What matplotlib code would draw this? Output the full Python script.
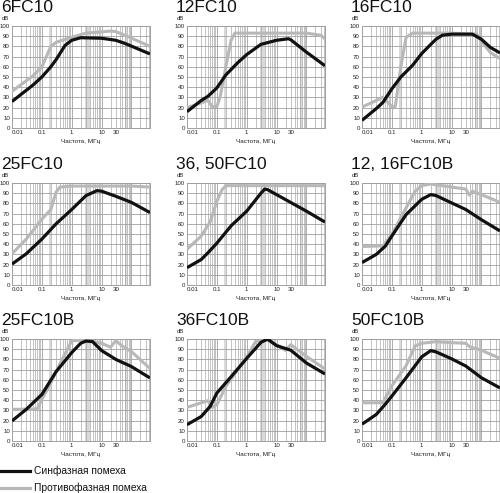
import matplotlib
matplotlib.use("Agg")
import matplotlib.pyplot as plt
import numpy as np

titles = ["6FC10", "12FC10", "16FC10", "25FC10", "36, 50FC10", "12, 16FC10B",
          "25FC10B", "36FC10B", "50FC10B"]
xtick_vals = [0.01, 0.1, 1, 10, 30]
xtick_labels = ["0.01", "0.1", "1", "10", "30"]
ytick_vals = [0, 10, 20, 30, 40, 50, 60, 70, 80, 90, 100]
legend_labels = ["Синфазная помеха", "Противофазная помеха"]
xlabel = "Частота, МГц"

# Panel 1: 6FC10
f1_cm = [0.01, 0.05, 0.1, 0.2, 0.3, 0.6, 1, 2, 10, 30, 60, 420]
y1_cm = [26, 42, 50, 60, 67, 81, 86, 88.5, 88, 86, 83, 72.6]
f1_dm = [0.01, 0.05, 0.1, 0.2, 0.3, 1, 3, 20, 30, 60, 420]
y1_dm = [36, 51, 60, 80, 84, 89, 93, 95, 94.5, 91, 80]
# Panel 2: 12FC10
f2_cm = [0.01, 0.03, 0.05, 0.1, 0.2, 0.5, 1, 3, 10, 25, 30, 100, 420]
y2_cm = [16, 27, 31, 39.3, 52, 64, 72, 82, 86, 87.5, 86.5, 74.4, 61]
f2_dm = [0.01, 0.03, 0.05, 0.07, 0.1, 0.13, 0.2, 0.3, 0.4, 1, 30, 100, 300, 420]
y2_dm = [20, 24.6, 27, 21, 21, 31, 60, 86, 93, 93, 93, 93, 91, 87.5]
# Panel 3: 16FC10
f3_cm = [0.01, 0.03, 0.05, 0.1, 0.2, 0.5, 1, 3, 5, 10, 50, 100, 200, 420]
y3_cm = [7.5, 19, 25, 38.4, 50, 61.6, 73, 87, 91, 92, 92, 87, 79, 73.6]
f3_dm = [0.01, 0.03, 0.05, 0.1, 0.13, 0.2, 0.3, 0.5, 10, 70, 100, 200, 420]
y3_dm = [20.5, 27, 30.3, 21, 21, 60, 89, 93, 93, 92, 85, 74, 68]
# Panel 4: 25FC10
f4_cm = [0.01, 0.03, 0.1, 0.3, 1, 3, 7, 10, 30, 100, 420]
y4_cm = [20.5, 30.6, 45, 60, 74, 87.6, 92.5, 92, 87, 81, 71]
f4_dm = [0.01, 0.03, 0.1, 0.2, 0.3, 0.4, 1, 100, 420]
y4_dm = [30.6, 45, 64.5, 74, 91, 96, 97, 97, 96]
# Panel 5: 36, 50FC10
f5_cm = [0.01, 0.03, 0.05, 0.1, 0.3, 1, 3, 4, 5, 10, 100, 420]
y5_cm = [17, 25, 31.5, 41, 58, 72.4, 90, 94, 93.5, 88.6, 72.4, 61.7]
f5_dm = [0.01, 0.03, 0.06, 0.1, 0.15, 0.2, 1, 420]
y5_dm = [35, 48, 62, 82, 93.5, 97.4, 97.4, 97.4]
# Panel 6: 12, 16FC10B
f6_cm = [0.01, 0.03, 0.06, 0.1, 0.3, 1, 2, 3, 10, 30, 100, 420]
y6_cm = [22, 30, 38, 48, 69, 84, 88.6, 87.7, 80.5, 74, 64, 53]
f6_dm = [0.01, 0.05, 0.1, 0.3, 0.6, 1, 2, 30, 40, 50, 100, 420]
y6_dm = [37.7, 38.4, 49.7, 75.6, 91.9, 97.4, 99, 94, 88, 92, 88.6, 81]
# Panel 7: 25FC10B
f7_cm = [0.01, 0.03, 0.1, 0.3, 1, 2, 3, 5, 10, 30, 100, 420]
y7_cm = [19.7, 31, 45.6, 68, 86.7, 95.8, 98, 97.4, 88.7, 80, 73, 61.8]
f7_dm = [0.01, 0.07, 0.1, 0.2, 0.3, 0.5, 1, 3, 10, 20, 30, 50, 100, 420]
y7_dm = [31, 31.4, 40.8, 57, 68, 81, 98.4, 99, 95.8, 92, 98.4, 93, 87.7, 71]
# Panel 8: 36FC10B
f8_cm = [0.01, 0.03, 0.06, 0.1, 0.3, 1, 3, 5, 10, 30, 100, 420]
y8_cm = [16, 24, 34, 47, 63, 81, 96.7, 100, 93.5, 89, 76.5, 65.7]
f8_dm = [0.01, 0.05, 0.07, 0.1, 0.2, 0.5, 1, 2, 5, 10, 20, 30, 100, 420]
y8_dm = [33, 39.5, 33, 35.6, 53.6, 70, 82.4, 97.7, 98.7, 94.4, 88.9, 94.4, 83, 70.6]
# Panel 9: 50FC10B
f9_cm = [0.01, 0.03, 0.06, 0.1, 0.3, 1, 2, 3, 10, 30, 100, 420]
y9_cm = [16.5, 26, 36, 44, 62, 82.5, 88.6, 87.4, 80.6, 73.5, 62, 52]
f9_dm = [0.01, 0.05, 0.1, 0.3, 0.6, 1, 3, 10, 30, 40, 100, 420]
y9_dm = [37.5, 37.5, 54, 73.8, 93.2, 95.8, 97.4, 96.4, 95.8, 92.5, 89, 81]

panels = [
    (f1_cm, y1_cm, f1_dm, y1_dm), (f2_cm, y2_cm, f2_dm, y2_dm), (f3_cm, y3_cm, f3_dm, y3_dm),
    (f4_cm, y4_cm, f4_dm, y4_dm), (f5_cm, y5_cm, f5_dm, y5_dm), (f6_cm, y6_cm, f6_dm, y6_dm),
    (f7_cm, y7_cm, f7_dm, y7_dm), (f8_cm, y8_cm, f8_dm, y8_dm), (f9_cm, y9_cm, f9_dm, y9_dm),
]

W, H = 500, 493
fig = plt.figure(figsize=(W / 100, H / 100), dpi=100)
fig.patch.set_facecolor("white")

col_left = [12, 187, 362]
row_top = [26, 183, 339]
ax_w, ax_h = 138, 102
BLACK = "#111111"
GREY = "#b8b8b8"
GRID = "#a0a0a0"

minor = []
for dec in [0.01, 0.1, 1, 10, 100]:
    for m in range(2, 10):
        v = dec * m
        if v < 420:
            minor.append(v)
bands = [(0.17, 0.2), (2.8, 4.1), (60, 72)]

title_font = ["Liberation Sans", "DejaVu Sans"]
small_font = ["Liberation Sans", "DejaVu Sans"]

for i, (fc, yc, fd, yd) in enumerate(panels):
    r, c = divmod(i, 3)
    left = col_left[c] / W
    bottom = 1 - (row_top[r] + ax_h) / H
    ax = fig.add_axes([left, bottom, ax_w / W, ax_h / H])
    ax.set_xscale("log")
    ax.set_xlim(0.01, 420)
    ax.set_ylim(0, 100)
    for a, b in bands:
        ax.axvspan(a, b, color="#dadada", lw=0, zorder=0)
    for v in minor:
        ax.axvline(v, color=GRID, lw=0.45, zorder=1)
    for v in [0.1, 1, 10, 100]:
        ax.axvline(v, color=GRID, lw=0.6, zorder=1)
    for v in ytick_vals:
        ax.axhline(v, color=GRID, lw=0.6, zorder=1)
    ax.plot(fd, yd, color=GREY, lw=2.2, solid_joinstyle="round", solid_capstyle="butt", zorder=3)
    ax.plot(fc, yc, color=BLACK, lw=2.3, solid_joinstyle="round", solid_capstyle="butt", zorder=4)
    ax.set_xticks(xtick_vals)
    ax.set_xticklabels(xtick_labels)
    ax.xaxis.set_minor_locator(matplotlib.ticker.NullLocator())
    ax.set_yticks(ytick_vals)
    ax.tick_params(length=0, labelsize=4.4, pad=1.5, colors="#222222")
    for lab in ax.get_xticklabels():
        lab.set_family(small_font)
    for lab in ax.get_yticklabels():
        lab.set_family(small_font)
    ax.get_xticklabels()[0].set_horizontalalignment("left")
    for s in ax.spines.values():
        s.set_color(GRID)
        s.set_linewidth(0.7)
    if c == 2:
        ax.spines["right"].set_visible(False)
    ax.set_xlabel(xlabel, fontsize=4.6, family=small_font, labelpad=2.5, color="#222222")
    fig.text((col_left[c] - 11) / W, 1 - (row_top[r] - 14) / H, titles[i],
             fontsize=12.5, family=title_font, ha="left", va="baseline", color="#111111")
    fig.text((col_left[c] - 10) / W, 1 - (row_top[r] - 6) / H, "dB",
             fontsize=4.2, family=small_font, ha="left", va="baseline", color="#222222")

# legend
leg_ax = fig.add_axes([0, 0, 1, 1], facecolor="none")
leg_ax.set_xlim(0, W)
leg_ax.set_ylim(H, 0)
leg_ax.axis("off")
leg_ax.plot([0, 30], [471, 471], color=BLACK, lw=2.3)
leg_ax.plot([0, 30], [488, 488], color=GREY, lw=2.3)
leg_ax.text(34, 471, legend_labels[0], fontsize=7.4, family=small_font, va="center", ha="left", color="#111111")
leg_ax.text(34, 488, legend_labels[1], fontsize=7.4, family=small_font, va="center", ha="left", color="#111111")

fig.savefig("out.png", dpi=100, facecolor="white")
